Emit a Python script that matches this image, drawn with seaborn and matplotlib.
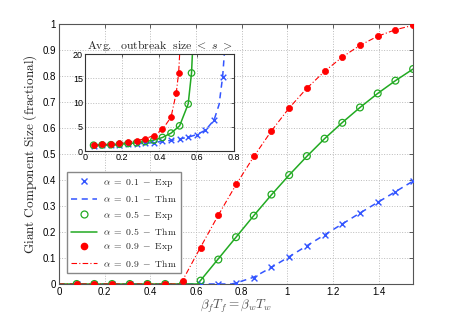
import matplotlib
matplotlib.use("Agg")
import matplotlib.pyplot as plt
from matplotlib.lines import Line2D
import seaborn as sns

sns.set_style("white")
plt.rcParams['font.family'] = ['Liberation Sans', 'DejaVu Sans']
plt.rcParams['mathtext.fontset'] = 'cm'

# main plot: giant component size vs beta*T
beta_t = [0.0775, 0.155, 0.2325, 0.31, 0.3875, 0.465, 0.5425, 0.62, 0.6975, 0.775,
          0.8525, 0.93, 1.0075, 1.085, 1.1625, 1.24, 1.3175, 1.395, 1.4725, 1.55]
gc_a01 = [0, 0, 0, 0, 0, 0, 0, 0, 0, 0.005, 0.024, 0.065, 0.105, 0.145, 0.19,
          0.232, 0.273, 0.315, 0.355, 0.397]
gc_a05 = [0, 0, 0, 0, 0, 0, 0, 0.013, 0.094, 0.18, 0.263, 0.344, 0.419, 0.492,
          0.559, 0.62, 0.679, 0.733, 0.782, 0.827]
gc_a09 = [0, 0, 0, 0, 0, 0, 0.012, 0.14, 0.265, 0.383, 0.493, 0.59, 0.678, 0.754,
          0.819, 0.874, 0.919, 0.954, 0.978, 0.995]

# theory curves (zero up to the threshold, then through the measured values)
thm_x_a01 = [0, 0.755, 0.775, 0.8525, 0.93, 1.0075, 1.085, 1.1625, 1.24, 1.3175, 1.395, 1.4725, 1.55]
thm_y_a01 = [0, 0, 0.004, 0.026, 0.064, 0.105, 0.147, 0.189, 0.231, 0.273, 0.314, 0.355, 0.396]
thm_x_a05 = [0, 0.606, 0.62, 0.6975, 0.775, 0.8525, 0.93, 1.0075, 1.085, 1.1625, 1.24, 1.3175, 1.395, 1.4725, 1.55]
thm_y_a05 = [0, 0, 0.014, 0.097, 0.18, 0.263, 0.343, 0.419, 0.491, 0.559, 0.621, 0.679, 0.733, 0.782, 0.827]
thm_x_a09 = [0, 0.532, 0.5425, 0.62, 0.6975, 0.775, 0.8525, 0.93, 1.0075, 1.085, 1.1625, 1.24, 1.3175, 1.395, 1.4725, 1.55]
thm_y_a09 = [0, 0, 0.016, 0.142, 0.265, 0.382, 0.49, 0.589, 0.677, 0.753, 0.818, 0.873, 0.918, 0.953, 0.978, 0.995]

# inset: average outbreak size
os_x_a01 = [0.046, 0.092, 0.139, 0.185, 0.231, 0.277, 0.323, 0.37, 0.416, 0.462,
            0.508, 0.554, 0.6, 0.647, 0.693, 0.739]
os_a01 = [1.1, 1.15, 1.2, 1.3, 1.4, 1.5, 1.6, 1.75, 2.0, 2.2, 2.5, 2.85, 3.4, 4.3, 6.4, 15.3]
os_x_a05 = [0.046, 0.092, 0.139, 0.185, 0.231, 0.277, 0.323, 0.37, 0.416, 0.462, 0.508, 0.554, 0.572]
os_a05 = [1.2, 1.25, 1.3, 1.4, 1.55, 1.7, 1.95, 2.25, 2.8, 3.7, 5.2, 9.7, 16.1]
os_x_a09 = [0.046, 0.092, 0.139, 0.185, 0.231, 0.277, 0.323, 0.37, 0.416, 0.462, 0.49, 0.503]
os_a09 = [1.25, 1.35, 1.45, 1.6, 1.85, 2.15, 2.55, 3.2, 4.45, 7.0, 12.0, 16.2]

os_thm_x_a01 = [0.046, 0.092, 0.139, 0.185, 0.231, 0.277, 0.323, 0.37, 0.416, 0.462,
                0.508, 0.554, 0.6, 0.647, 0.693, 0.72, 0.739, 0.752]
os_thm_a01 = [1.1, 1.15, 1.2, 1.3, 1.4, 1.5, 1.6, 1.75, 2.0, 2.2, 2.5, 2.85, 3.4, 4.3, 6.4, 9.6, 15.3, 22]
os_thm_x_a05 = [0.046, 0.092, 0.139, 0.185, 0.231, 0.277, 0.323, 0.37, 0.416, 0.462, 0.508, 0.554, 0.572, 0.579]
os_thm_a05 = [1.2, 1.25, 1.3, 1.4, 1.55, 1.7, 1.95, 2.25, 2.8, 3.7, 5.2, 9.7, 16.1, 22]
os_thm_x_a09 = [0.046, 0.092, 0.139, 0.185, 0.231, 0.277, 0.323, 0.37, 0.416, 0.462, 0.49, 0.503, 0.511]
os_thm_a09 = [1.25, 1.35, 1.45, 1.6, 1.85, 2.15, 2.55, 3.2, 4.45, 7.0, 12.0, 16.2, 22]

blue = '#3355ff'
green = '#22aa22'
red = '#ff0000'
dash_blue = (0, (4, 3))
dash_red = (0, (5, 2, 1, 2))


def draw_series(a, xs, ys, tx, ty, s_scale=1.0):
    sns.lineplot(x=tx[0], y=ty[0], ax=a, color=blue, linestyle=dash_blue, lw=1.1, sort=False)
    sns.lineplot(x=tx[1], y=ty[1], ax=a, color=green, linestyle='-', lw=1.1, sort=False)
    sns.lineplot(x=tx[2], y=ty[2], ax=a, color=red, linestyle=dash_red, lw=0.8, sort=False)
    sns.scatterplot(x=xs[0], y=ys[0], ax=a, marker='x', color=blue, s=18 * s_scale, linewidth=1.0, zorder=3)
    sns.scatterplot(x=xs[1], y=ys[1], ax=a, marker='o', facecolor='none', edgecolor=green,
                    s=24 * s_scale, linewidth=0.9, zorder=3)
    sns.scatterplot(x=xs[2], y=ys[2], ax=a, marker='o', color=red, edgecolor=red,
                    s=20 * s_scale, linewidth=0.5, zorder=4)


fig = plt.figure(figsize=(4.57, 3.2), dpi=100)
ax = fig.add_axes([0.129, 0.1125, 0.775, 0.8125])

draw_series(ax, [beta_t, beta_t, beta_t], [gc_a01, gc_a05, gc_a09],
            [thm_x_a01, thm_x_a05, thm_x_a09], [thm_y_a01, thm_y_a05, thm_y_a09])

ax.set_xlim(0, 1.55)
ax.set_ylim(0, 1)
ax.set_xticks([0, 0.2, 0.4, 0.6, 0.8, 1, 1.2, 1.4])
ax.set_xticklabels(['0', '0.2', '0.4', '0.6', '0.8', '1', '1.2', '1.4'])
ax.set_yticks([0, 0.1, 0.2, 0.3, 0.4, 0.5, 0.6, 0.7, 0.8, 0.9, 1])
ax.set_yticklabels(['0', '0.1', '0.2', '0.3', '0.4', '0.5', '0.6', '0.7', '0.8', '0.9', '1'])
ax.tick_params(direction='in', length=3, width=0.6, labelsize=7, pad=2, top=True, right=True,
               colors='#444444', labelcolor='black')
ax.grid(True, linestyle=':', color='#bbbbbb', lw=0.7)
for sp in ax.spines.values():
    sp.set_color('#555555')
    sp.set_linewidth(0.8)
ax.set_ylabel(r'$\mathrm{Giant\ Component\ Size\ (fractional)}$', fontsize=9.5, labelpad=3)
ax.set_xlabel(r'$\beta_f T_f = \beta_w T_w$', fontsize=9.5, color='#555555', labelpad=1)

handles = [
    Line2D([], [], color=blue, marker='x', ls='none', ms=4.5, mew=1.0),
    Line2D([], [], color=blue, ls=dash_blue, lw=1.1),
    Line2D([], [], color=green, marker='o', mfc='none', ls='none', ms=5, mew=0.9),
    Line2D([], [], color=green, ls='-', lw=1.1),
    Line2D([], [], color=red, marker='o', ls='none', ms=4.5),
    Line2D([], [], color=red, ls=dash_red, lw=0.8),
]
labels = [r'$\alpha\ =\ 0.1\ -\ \mathrm{Exp}$', r'$\alpha\ =\ 0.1\ -\ \mathrm{Thm}$',
          r'$\alpha\ =\ 0.5\ -\ \mathrm{Exp}$', r'$\alpha\ =\ 0.5\ -\ \mathrm{Thm}$',
          r'$\alpha\ =\ 0.9\ -\ \mathrm{Exp}$', r'$\alpha\ =\ 0.9\ -\ \mathrm{Thm}$']
leg = ax.legend(handles, labels, loc='lower left', bbox_to_anchor=(0.023, 0.042),
                fontsize=7, frameon=True, fancybox=False, framealpha=1,
                edgecolor='#888888', handlelength=2.6, labelspacing=0.45,
                borderpad=0.45, handletextpad=0.6, borderaxespad=0)
leg.get_frame().set_linewidth(1.0)

# inset
ins = fig.add_axes([0.186, 0.528, 0.326, 0.303])
draw_series(ins, [os_x_a01, os_x_a05, os_x_a09], [os_a01, os_a05, os_a09],
            [os_thm_x_a01, os_thm_x_a05, os_thm_x_a09], [os_thm_a01, os_thm_a05, os_thm_a09],
            s_scale=0.9)
ins.set_xlim(0, 0.8)
ins.set_ylim(0, 20)
ins.set_xticks([0, 0.2, 0.4, 0.6, 0.8])
ins.set_xticklabels(['0', '0.2', '0.4', '0.6', '0.8'])
ins.set_yticks([0, 5, 10, 15, 20])
ins.tick_params(direction='in', length=2.5, width=0.6, labelsize=6.5, pad=1.5, top=True, right=True,
                colors='#444444', labelcolor='black')
ins.grid(True, linestyle=':', color='#bbbbbb', lw=0.7)
for sp in ins.spines.values():
    sp.set_color('#333333')
    sp.set_linewidth(0.8)
ins.set_title(r'$\mathrm{Avg.\ \ outbreak\ \ size}\ <\ s\ >$', fontsize=8.5, pad=4)

fig.savefig('out.png', dpi=100)
